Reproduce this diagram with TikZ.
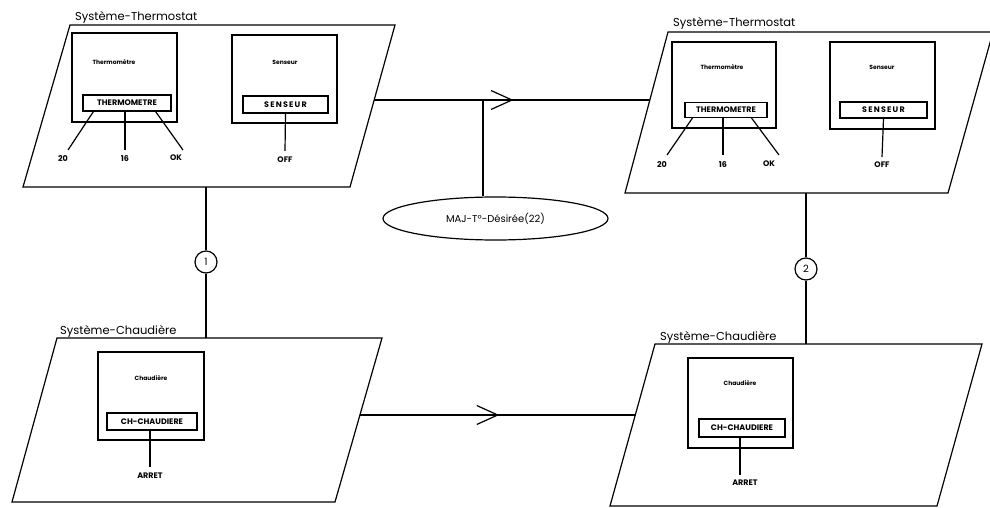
\documentclass[tikz,border=0pt]{standalone}
\usepackage{fontspec}
\setmainfont{Poppins}
\usetikzlibrary{calc,shapes.geometric,decorations.markings}
\newcommand\fsz[1]{\fontsize{#1}{#1}\selectfont}
\begin{document}
\begin{tikzpicture}[x=1pt,y=-1pt,
  frame/.style={line width=1.2pt, line join=miter},
  title/.style={font=\fsz{11.5}, anchor=base west, inner sep=0},
  objbox/.style={draw, line width=1.2pt, inner sep=0},
  slot/.style={draw, line width=1.2pt, inner sep=0, font=\fsz{8}\bfseries},
  objname/.style={font=\fsz{6}\bfseries, inner sep=0},
  value/.style={font=\fsz{8}\bfseries, inner sep=0, anchor=north},
  link/.style={line width=1.2pt},
  flow/.style={line width=1.2pt, postaction={decorate},
    decoration={markings, mark=at position 0.5 with
      {\draw[line width=1.2pt] (-21pt,9.5pt) -- (0pt,0pt) -- (-21pt,-9.5pt);}}},
  numcirc/.style={circle, draw, line width=1.2pt, minimum size=22pt, inner sep=0, font=\fsz{10}},
  event/.style={ellipse, draw, line width=1.2pt, minimum width=225pt, minimum height=43pt, inner sep=0, font=\fsz{10}}
]
\useasboundingbox (0,0) rectangle (990,508);

% ---------- Système-Thermostat (state before) ----------
\coordinate (p1a) at (70,25);  \coordinate (p1b) at (395,25);
\coordinate (p1c) at (350,187); \coordinate (p1d) at (23,187);
\draw[frame] (p1a) -- (p1b) -- (p1c) -- (p1d) -- cycle;
\node[title] (t1) at (75,21) {Système-Thermostat};

\node[objbox, minimum width=105pt, minimum height=89pt] (thA) at (124.5,77.5) {};
\node[objname] (thAn) at (114,62) {Thermomètre};
\node[slot, minimum width=88pt, minimum height=16pt] (thAs) at (127,103) {THERMOMETRE};
\node[value] (a20) at (63,155) {20};
\node[value] (a16) at (125,155) {16};
\node[value] (aok) at (176,155) {OK};
\draw[link] ($(thAs.south west)+(11,0)$) -- ($(a20.north)+(5,-5)$);
\draw[link] (thAs.south -| a16) -- ($(a16.north)+(0,-5)$);
\draw[link] ($(thAs.south east)+(-16,0)$) -- ($(aok.north)+(7,-5)$);

\node[objbox, minimum width=105pt, minimum height=88pt] (seA) at (284.5,79) {};
\node[objname] (seAn) at (285,62) {Senseur};
\node[slot, minimum width=85pt, minimum height=17pt] (seAs) at (285.5,104.5) {\addfontfeature{LetterSpace=15}SENSEUR};
\node[value] (aoff) at (285,157) {OFF};
\draw[link] (seAs.south) -- ($(aoff.north)+(0,-6)$);

% ---------- Système-Thermostat (state after) ----------
\coordinate (p2a) at (668,32);  \coordinate (p2b) at (993,32);
\coordinate (p2c) at (948,193); \coordinate (p2d) at (625,193);
\draw[frame] (p2a) -- (p2b) -- (p2c) -- (p2d) -- cycle;
\node[title] (t2) at (673,27) {Système-Thermostat};

\node[objbox, minimum width=104pt, minimum height=86pt] (thB) at (724,85) {};
\node[objname] (thBn) at (722,67) {Thermomètre};
\node[slot, minimum width=82pt, minimum height=15pt] (thBs) at (726,110) {THERMOMETRE};
\node[value] (b20) at (662,161) {20};
\node[value] (b16) at (723,161) {16};
\node[value] (bok) at (769,161) {OK};
\draw[link] ($(thBs.south west)+(8,0)$) -- ($(b20.north)+(5,-6)$);
\draw[link] (thBs.south -| b16) -- ($(b16.north)+(0,-6)$);
\draw[link] ($(thBs.south east)+(-16,0)$) -- ($(bok.north)+(10,-6)$);

\node[objbox, minimum width=105pt, minimum height=87pt] (seB) at (882.5,85.5) {};
\node[objname] (seBn) at (882,67) {Senseur};
\node[slot, minimum width=87pt, minimum height=16pt] (seBs) at (883.5,110) {\addfontfeature{LetterSpace=15}SENSEUR};
\node[value] (boff) at (882,162) {OFF};
\draw[link] (seBs.south) -- ($(boff.north)+(0,-5)$);

% ---------- Système-Chaudière (state before) ----------
\coordinate (p3a) at (57,338);  \coordinate (p3b) at (382,338);
\coordinate (p3c) at (335,502); \coordinate (p3d) at (12,502);
\draw[frame] (p3a) -- (p3b) -- (p3c) -- (p3d) -- cycle;
\node[title] (t3) at (60,334) {Système-Chaudière};

\node[objbox, minimum width=106pt, minimum height=88pt] (chA) at (151,396) {};
\node[objname] (chAn) at (151,378) {Chaudière};
\node[slot, minimum width=90pt, minimum height=17pt] (chAs) at (152,421.5) {CH-CHAUDIERE};
\node[value] (aarr) at (150,473) {ARRET};
\draw[link] (chAs.south -| aarr) -- ($(aarr.north)+(0,-6)$);

% ---------- Système-Chaudière (state after) ----------
\coordinate (p4a) at (655,344);  \coordinate (p4b) at (982,344);
\coordinate (p4c) at (937,506);  \coordinate (p4d) at (610,506);
\draw[frame] (p4a) -- (p4b) -- (p4c) -- (p4d) -- cycle;
\node[title] (t4) at (660,340) {Système-Chaudière};

\node[objbox, minimum width=105pt, minimum height=90pt] (chB) at (740.5,403) {};
\node[objname] (chBn) at (740,383) {Chaudière};
\node[slot, minimum width=86pt, minimum height=18pt] (chBs) at (742,428) {CH-CHAUDIERE};
\node[value] (barr) at (745,480) {ARRET};
\coordinate (barrtop) at (740,475);
\draw[link] (chBs.south -| barrtop) -- (barrtop);

% ---------- transitions between the states ----------
\coordinate (p1r) at (374,100);
\coordinate (p2l) at (650,100);
\draw[flow] (p1r) -- (p2l);

\coordinate (p3r) at (360,415);
\coordinate (p4l) at (635.5,415);
\draw[flow] (p3r) -- (p4l);

\node[event] (maj) at (495.5,218.5) {MAJ-T°-Désirée(22)};
\coordinate (jn) at (483,100);
\draw[link] (jn) -- (jn |- maj.north);

% ---------- links between the two systems ----------
\coordinate (p1s) at (206,187);
\coordinate (p3n) at (206,338);
\node[numcirc] (c1) at (206,262) {1};
\draw[link] (p1s) -- (c1) -- (p3n);

\coordinate (p2s) at (806,193);
\coordinate (p4n) at (806,344);
\node[numcirc] (c2) at (806,269) {2};
\draw[link] (p2s) -- (c2) -- (p4n);
\end{tikzpicture}
\end{document}
